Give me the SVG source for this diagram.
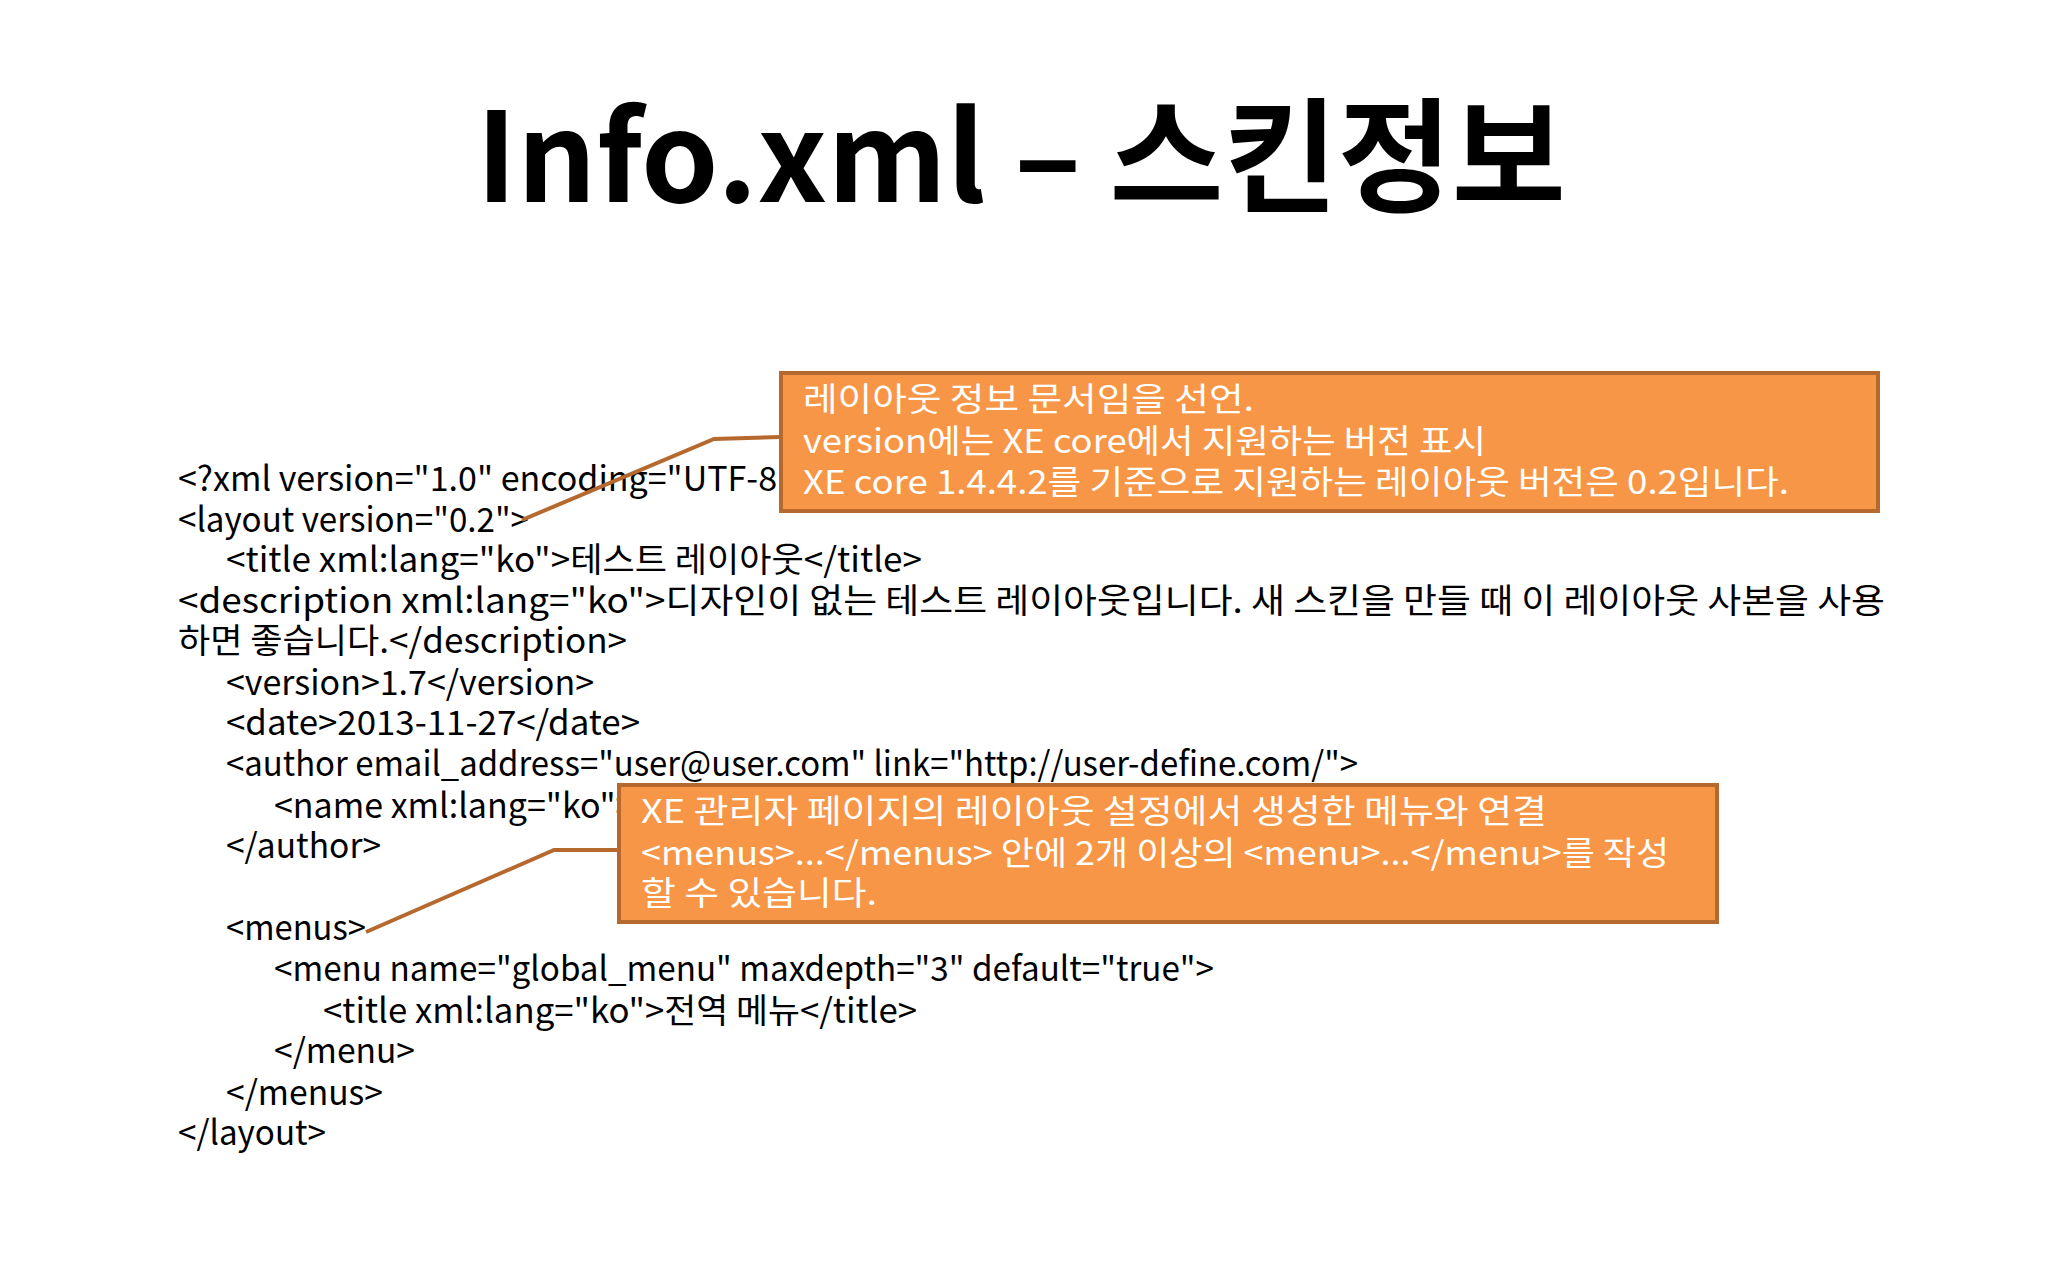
<svg xmlns="http://www.w3.org/2000/svg" width="2048" height="1280" viewBox="0 0 2048 1280">
<style>
.t{font-family:"Noto Sans CJK KR","Noto Sans",sans-serif;font-size:34px;fill:#000}
.c{font-family:"Noto Sans CJK KR","Noto Sans",sans-serif;font-size:33px;fill:#fff}
.box{fill:#F79646;stroke:#B5692E;stroke-width:4}
.ln{fill:none;stroke:#B5692E;stroke-width:4}
</style>
<rect width="2048" height="1280" fill="#fff"/>
<text x="1021" y="202" text-anchor="middle" style="font-family:'Noto Sans CJK KR','Noto Sans',sans-serif;font-size:124px;font-weight:bold">Info.xml – 스킨정보</text>
<g id="code">
<text class="t" x="178" y="491">&lt;?xml version="1.0" encoding="UTF-8"?&gt;</text>
<text class="t" x="178" y="532" textLength="351" lengthAdjust="spacingAndGlyphs">&lt;layout version="0.2"&gt;</text>
<text class="t" x="226" y="572" textLength="696" lengthAdjust="spacingAndGlyphs">&lt;title xml:lang="ko"&gt;테스트 레이아웃&lt;/title&gt;</text>
<text class="t" x="178" y="613" textLength="1707" lengthAdjust="spacingAndGlyphs">&lt;description xml:lang="ko"&gt;디자인이 없는 테스트 레이아웃입니다. 새 스킨을 만들 때 이 레이아웃 사본을 사용</text>
<text class="t" x="178" y="653" textLength="449" lengthAdjust="spacingAndGlyphs">하면 좋습니다.&lt;/description&gt;</text>
<text class="t" x="226" y="695" textLength="368" lengthAdjust="spacingAndGlyphs">&lt;version&gt;1.7&lt;/version&gt;</text>
<text class="t" x="226" y="735" textLength="414" lengthAdjust="spacingAndGlyphs">&lt;date&gt;2013-11-27&lt;/date&gt;</text>
<text class="t" x="226" y="776" textLength="1132" lengthAdjust="spacingAndGlyphs">&lt;author email_address="user@user.com" link="http://user-define.com/"&gt;</text>
<text class="t" x="274" y="818">&lt;name xml:lang="ko"&gt;</text>
<text class="t" x="226" y="858" textLength="155" lengthAdjust="spacingAndGlyphs">&lt;/author&gt;</text>
<text class="t" x="226" y="940" textLength="140" lengthAdjust="spacingAndGlyphs">&lt;menus&gt;</text>
<text class="t" x="274" y="981" textLength="940" lengthAdjust="spacingAndGlyphs">&lt;menu name="global_menu" maxdepth="3" default="true"&gt;</text>
<text class="t" x="323" y="1023" textLength="594" lengthAdjust="spacingAndGlyphs">&lt;title xml:lang="ko"&gt;전역 메뉴&lt;/title&gt;</text>
<text class="t" x="274" y="1063" textLength="141" lengthAdjust="spacingAndGlyphs">&lt;/menu&gt;</text>
<text class="t" x="226" y="1105" textLength="157" lengthAdjust="spacingAndGlyphs">&lt;/menus&gt;</text>
<text class="t" x="178" y="1145" textLength="148" lengthAdjust="spacingAndGlyphs">&lt;/layout&gt;</text>
</g>
<g id="connectors">
<polyline class="ln" points="522,520 714,439 781,437"/>
<polyline class="ln" points="366,932 554,850 619,850"/>
</g>
<g id="callout1">
<rect class="box" x="781" y="373" width="1097" height="138"/>
<text class="c" x="803" y="411" textLength="451" lengthAdjust="spacingAndGlyphs">레이아웃 정보 문서임을 선언.</text>
<text class="c" x="803" y="453" textLength="683" lengthAdjust="spacingAndGlyphs">version에는 XE core에서 지원하는 버전 표시</text>
<text class="c" x="803" y="494" textLength="986" lengthAdjust="spacingAndGlyphs">XE core 1.4.4.2를 기준으로 지원하는 레이아웃 버전은 0.2입니다.</text>
</g>
<g id="callout2">
<rect class="box" x="619" y="785" width="1098" height="137"/>
<text class="c" x="641" y="823" textLength="906" lengthAdjust="spacingAndGlyphs">XE 관리자 페이지의 레이아웃 설정에서 생성한 메뉴와 연결</text>
<text class="c" x="641" y="865" textLength="1028" lengthAdjust="spacingAndGlyphs">&lt;menus&gt;...&lt;/menus&gt; 안에 2개 이상의 &lt;menu&gt;...&lt;/menu&gt;를 작성</text>
<text class="c" x="641" y="905" textLength="236" lengthAdjust="spacingAndGlyphs">할 수 있습니다.</text>
</g>
</svg>
